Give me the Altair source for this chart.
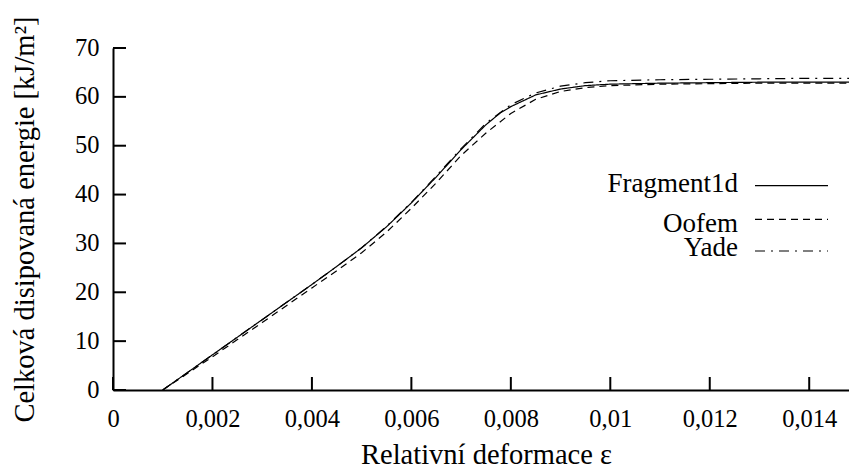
import altair as alt
import pandas as pd

# ---- data ----
names = ["Fragment1d", "Oofem", "Yade"]

eps_frag = [0.001, 0.002, 0.003, 0.004, 0.0045, 0.005, 0.0055, 0.006, 0.0065, 0.007, 0.0075, 0.0078, 0.008,
            0.0085, 0.009, 0.0095, 0.010, 0.011, 0.012, 0.013, 0.014, 0.0148]
val_frag = [0.0, 7.2, 14.4, 21.6, 25.3, 29.1, 33.4, 38.3, 43.6, 49.2, 54.3, 56.8, 58.0,
            60.4, 61.6, 62.3, 62.6, 62.8, 62.9, 63.0, 63.0, 63.0]

eps_oofem = [0.001, 0.002, 0.003, 0.004, 0.0045, 0.005, 0.0055, 0.006, 0.0065, 0.007, 0.0075, 0.008,
             0.0085, 0.009, 0.0095, 0.010, 0.011, 0.012, 0.013, 0.014, 0.0148]
val_oofem = [0.0, 6.8, 13.8, 20.9, 24.4, 28.1, 32.3, 37.2, 42.4, 48.0, 52.6, 56.6,
             59.5, 61.1, 61.9, 62.3, 62.6, 62.7, 62.8, 62.8, 62.8]

eps_yade = [0.001, 0.002, 0.003, 0.004, 0.0045, 0.005, 0.0055, 0.006, 0.0065, 0.007, 0.0075, 0.008,
            0.0085, 0.009, 0.0095, 0.010, 0.011, 0.012, 0.013, 0.014, 0.0148]
val_yade = [0.0, 7.2, 14.4, 21.6, 25.3, 29.1, 33.5, 38.4, 43.8, 49.4, 54.6, 58.4,
            60.8, 62.2, 62.9, 63.3, 63.5, 63.6, 63.7, 63.8, 63.8]

x_ticks = [0, 0.002, 0.004, 0.006, 0.008, 0.01, 0.012, 0.014]
y_ticks = [0, 10, 20, 30, 40, 50, 60, 70]

# ---- styling ----
FONT = "Times New Roman, Liberation Serif, DejaVu Serif, serif"
W, H = 736, 342
dashes = [[1, 0], [7, 5], [10, 6, 2, 6]]

rows = []
for n, xs, ys in [(names[0], eps_frag, val_frag), (names[1], eps_oofem, val_oofem),
                  (names[2], eps_yade, val_yade)]:
    for i, (a, b) in enumerate(zip(xs, ys)):
        rows.append({"series": n, "eps": a, "E": b, "order": i})
df = pd.DataFrame(rows)

xscale = alt.Scale(domain=[0, 0.0148], nice=False, zero=False)
yscale = alt.Scale(domain=[0, 70], nice=False)

xaxis = alt.Axis(values=x_ticks, labelExpr="replace(toString(datum.value), '.', ',')",
                 labelFont=FONT, labelFontSize=24.5, labelColor="black",
                 labelBaseline="alphabetic", labelPadding=36, ticks=False,
                 domainColor="black", domainWidth=2, grid=False,
                 title="Relativní deformace ε", titleFont=FONT, titleFontSize=28.5,
                 titleFontWeight="normal", titleColor="black", titleBaseline="alphabetic",
                 titleAlign="center", titleX=373, titleY=73, labelFlush=False, labelOverlap=False)
yaxis = alt.Axis(values=y_ticks, labelFont=FONT, labelFontSize=24.5, labelColor="black",
                 labelPadding=14, ticks=False, domainColor="black", domainWidth=2, grid=False,
                 title="Celková disipovaná energie [kJ/m²]", titleFont=FONT, titleFontSize=28.5,
                 titleFontWeight="normal", titleColor="black", titleBaseline="alphabetic",
                 titleAlign="center", titleAngle=270, titleX=-80, titleY=H / 2,
                 labelFlush=False, labelOverlap=False)

lines = alt.Chart(df).mark_line(color="black", strokeWidth=1.2).encode(
    x=alt.X("eps:Q", scale=xscale, axis=xaxis),
    y=alt.Y("E:Q", scale=yscale, axis=yaxis),
    detail="series:N",
    order="order:Q",
    strokeDash=alt.StrokeDash("series:N", scale=alt.Scale(domain=names, range=dashes), legend=None),
)

xt = alt.Chart(pd.DataFrame({"v": x_ticks})).mark_rule(color="black", strokeWidth=2).encode(
    x=alt.X("v:Q", scale=xscale), y=alt.value(H), y2=alt.value(H - 13))
yt = alt.Chart(pd.DataFrame({"v": y_ticks})).mark_rule(color="black", strokeWidth=2).encode(
    y=alt.Y("v:Q", scale=yscale), x=alt.value(0), x2=alt.value(13))

# ---- legend (manual, labels left of samples) ----
leg_text_y = [143.7, 183.7, 208.0]
leg_line_y = [137.7, 171.3, 203.0]
legend_layers = []
for n, ty, ly, d in zip(names, leg_text_y, leg_line_y, dashes):
    ldf = pd.DataFrame({"series": [n]})
    legend_layers.append(
        alt.Chart(ldf).mark_text(font=FONT, fontSize=27, align="right", baseline="alphabetic",
                                 color="black").encode(
            text="series:N", x=alt.value(625), y=alt.value(ty)))
    legend_layers.append(
        alt.Chart(ldf).mark_rule(color="black", strokeWidth=1.2, strokeDash=d).encode(
            x=alt.value(642), x2=alt.value(715), y=alt.value(ly)))

chart = alt.layer(lines, xt, yt, *legend_layers).properties(
    width=W, height=H,
    padding={"left": 113, "top": 48, "right": 0, "bottom": 80},
    autosize=alt.AutoSizeParams(type="none"),
    background="white",
).configure_view(stroke=None)

chart.save("out.html", embed_options={"renderer": "svg", "actions": False})
